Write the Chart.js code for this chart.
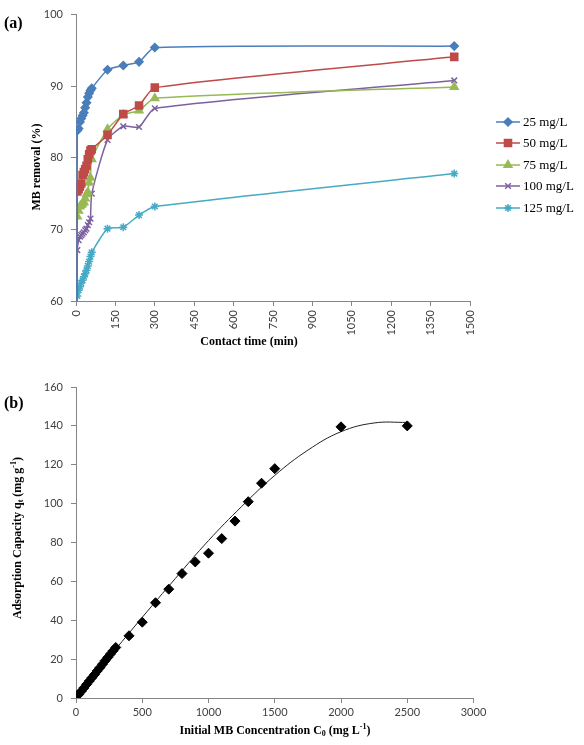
<!DOCTYPE html>
<html>
<head>
<meta charset="utf-8">
<script src="https://cdn.jsdelivr.net/npm/chart.js@4.4.1/dist/chart.umd.min.js"></script>
<style>
  body { margin: 0; background: #fff; }
  canvas { display: block; }
</style>
</head>
<body>
<canvas id="removalChart" width="584" height="350"></canvas>
<canvas id="capacityChart" width="584" height="395"></canvas>
<script>
// (a) MB removal vs contact time
const contactTimes = [0, 5, 10, 15, 20, 25, 30, 35, 40, 45, 50, 55, 60, 120, 180, 240, 300, 1440];
const removal25  = [0, 83.8, 84.1, 85.0, 85.5, 85.9, 86.3, 87.0, 87.7, 88.5, 89.0, 89.4, 89.7, 92.3, 92.9, 93.4, 95.4, 95.6];
const removal50  = [0, 75.3, 75.6, 76.0, 76.4, 77.6, 78.0, 78.4, 78.9, 79.8, 80.5, 81.0, 81.2, 83.2, 86.1, 87.3, 89.8, 94.1];
const removal75  = [0, 71.8, 72.6, 73.2, 73.4, 73.6, 73.8, 74.3, 74.9, 75.2, 76.5, 77.2, 79.8, 84.0, 86.0, 86.6, 88.3, 89.9];
const removal100 = [0, 67.1, 68.5, 69.0, 69.2, 69.4, 69.6, 69.9, 70.1, 70.6, 71.0, 71.5, 75.0, 82.5, 84.4, 84.3, 86.9, 90.8];
const removal125 = [0, 60.7, 61.5, 62.0, 62.5, 62.9, 63.4, 63.8, 64.3, 64.9, 65.5, 66.2, 66.8, 70.1, 70.3, 72.0, 73.2, 77.8];
const seriesNames = ['25 mg/L', '50 mg/L', '75 mg/L', '100 mg/L', '125 mg/L'];

// (b) adsorption capacity vs initial concentration
const initialConc = [20, 40, 60, 80, 100, 120, 140, 160, 180, 200, 220, 240, 260, 280, 300,
  400, 500, 600, 700, 800, 900, 1000, 1100, 1200, 1300, 1400, 1500, 2000, 2500];
const capacity = [1.8, 3.5, 5.2, 7.0, 8.7, 10.4, 12.1, 13.9, 15.6, 17.4, 19.2, 20.9, 22.6, 24.3, 26.0,
  32, 39, 49, 56, 64, 70, 74.5, 82, 91, 101, 110.5, 118, 139.5, 140];
const fitConc = [0, 250, 500, 750, 1000, 1250, 1500, 1750, 2000, 2250, 2500];
const fitCapacity = [0, 21, 41.5, 61.5, 81, 98.5, 114.5, 127.5, 137, 141.5, 141.8];

const axisGray = '#868686';
const tickFont = { family: 'Lato', size: 11 };
const tickColor = '#404040';
const serif = '"Liberation Serif", "Times New Roman", serif';

const seriesStyles = [
  { color: '#4A7EBB', pointStyle: 'rectRot', radius: 4 },
  { color: '#BE4B48', pointStyle: 'rect', radius: 5 },
  { color: '#98B954', pointStyle: 'triangle', radius: 4.5 },
  { color: '#7D60A0', pointStyle: 'crossRot', radius: 4 },
  { color: '#46AAC5', pointStyle: 'star', radius: 4 }
];
const removalSeries = [removal25, removal50, removal75, removal100, removal125];

function toPoints(xs, ys) {
  return xs.map((x, i) => ({ x, y: ys[i] }));
}

// draws text made of normal / subscript / superscript parts, centred at (x, y)
function richText(ctx, parts, x, y, rotate) {
  const big = 'bold 12px ' + serif;
  const small = 'bold 8px ' + serif;
  let total = 0;
  parts.forEach((p) => {
    ctx.font = p.sub || p.sup ? small : big;
    p.w = ctx.measureText(p.t).width;
    total += p.w;
  });
  ctx.save();
  ctx.translate(x, y);
  if (rotate) ctx.rotate(-Math.PI / 2);
  ctx.fillStyle = '#000';
  ctx.textBaseline = 'middle';
  ctx.textAlign = 'left';
  let cx = -total / 2;
  parts.forEach((p) => {
    ctx.font = p.sub || p.sup ? small : big;
    const dy = p.sub ? 3 : p.sup ? -4 : 0;
    ctx.fillText(p.t, cx, dy);
    cx += p.w;
  });
  ctx.restore();
}

function panelLabel(ctx, text, x, y) {
  ctx.save();
  ctx.font = 'bold 16px ' + serif;
  ctx.fillStyle = '#000';
  ctx.textBaseline = 'middle';
  ctx.fillText(text, x, y);
  ctx.restore();
}

function axisOptions(min, max, step, extra) {
  return Object.assign({
    type: 'linear',
    min,
    max,
    ticks: { stepSize: step, font: tickFont, color: tickColor, padding: 8, callback: (v) => String(v) },
    grid: { drawOnChartArea: false, drawTicks: true, tickLength: 5, color: axisGray },
    border: { color: axisGray, width: 1 }
  }, extra);
}

const removalDecor = {
  id: 'removalDecor',
  afterDraw(chart) {
    const { ctx, chartArea } = chart;
    panelLabel(ctx, '(a)', 4, 24);
    richText(ctx, [{ t: 'MB removal (%)' }], 37, 167, true);
    richText(ctx, [{ t: 'Contact time (min)' }], 249, 342, false);

    // legend: line with marker, then label
    const lx = chartArea.right + 26;
    const rows = [122, 143, 165, 186, 208];
    seriesNames.forEach((name, i) => {
      const st = seriesStyles[i];
      const y = rows[i];
      ctx.save();
      ctx.strokeStyle = st.color;
      ctx.fillStyle = st.color;
      ctx.lineWidth = 1.5;
      ctx.beginPath();
      ctx.moveTo(lx, y);
      ctx.lineTo(lx + 24, y);
      ctx.stroke();
      Chart.helpers.drawPoint(ctx, { pointStyle: st.pointStyle, radius: st.radius, rotation: 0, borderWidth: 1.5 }, lx + 12, y);
      ctx.font = '13px ' + serif;
      ctx.fillStyle = '#000';
      ctx.textBaseline = 'middle';
      ctx.fillText(name, lx + 27, y + 1);
      ctx.restore();
    });
  }
};

new Chart(document.getElementById('removalChart'), {
  type: 'line',
  data: {
    datasets: removalSeries.map((values, i) => ({
      label: seriesNames[i],
      data: toPoints(contactTimes, values),
      borderColor: seriesStyles[i].color,
      backgroundColor: seriesStyles[i].color,
      borderWidth: 1.5,
      pointStyle: seriesStyles[i].pointStyle,
      pointRadius: seriesStyles[i].radius,
      pointBorderWidth: 1.5,
      tension: 0.2
    }))
  },
  options: {
    responsive: false,
    animation: false,
    layout: { padding: { top: 9, right: 114, left: 0, bottom: 0 } },
    plugins: { legend: { display: false }, tooltip: { enabled: false } },
    scales: {
      x: axisOptions(0, 1500, 150, {
        ticks: { stepSize: 150, font: tickFont, color: tickColor, padding: 4, minRotation: 90, maxRotation: 90, autoSkip: false, callback: (v) => String(v) },
        afterFit(scale) { scale.height = 49; }
      }),
      y: axisOptions(60, 100, 10, {
        afterFit(scale) { scale.width = 76; }
      })
    }
  },
  plugins: [removalDecor]
});

const capacityDecor = {
  id: 'capacityDecor',
  afterDraw(chart) {
    const { ctx } = chart;
    panelLabel(ctx, '(b)', 4, 54);
    richText(ctx, [
      { t: 'Adsorption Capacity q' }, { t: 't', sub: true }, { t: ' (mg g' }, { t: '-1', sup: true }, { t: ')' }
    ], 18, 188, true);
    richText(ctx, [
      { t: 'Initial MB Concentration C' }, { t: '0', sub: true }, { t: ' (mg L' }, { t: '-1', sup: true }, { t: ')' }
    ], 275, 381, false);
  }
};

new Chart(document.getElementById('capacityChart'), {
  type: 'scatter',
  data: {
    datasets: [
      {
        label: 'Experimental',
        data: toPoints(initialConc, capacity),
        pointStyle: 'rectRot',
        pointRadius: 5,
        backgroundColor: '#000',
        borderColor: '#000',
        borderWidth: 1
      },
      {
        label: 'Fit',
        data: toPoints(fitConc, fitCapacity),
        showLine: true,
        pointRadius: 0,
        borderColor: '#222',
        borderWidth: 1,
        tension: 0.4
      }
    ]
  },
  options: {
    responsive: false,
    animation: false,
    layout: { padding: { top: 37, right: 110.5, left: 0, bottom: 0 } },
    plugins: { legend: { display: false }, tooltip: { enabled: false } },
    scales: {
      x: axisOptions(0, 3000, 500, {
        ticks: { stepSize: 500, font: tickFont, color: tickColor, padding: 3, callback: (v) => String(v) },
        afterFit(scale) { scale.height = 47; }
      }),
      y: axisOptions(0, 160, 20, {
        afterFit(scale) { scale.width = 76; }
      })
    }
  },
  plugins: [capacityDecor]
});
</script>
</body>
</html>
